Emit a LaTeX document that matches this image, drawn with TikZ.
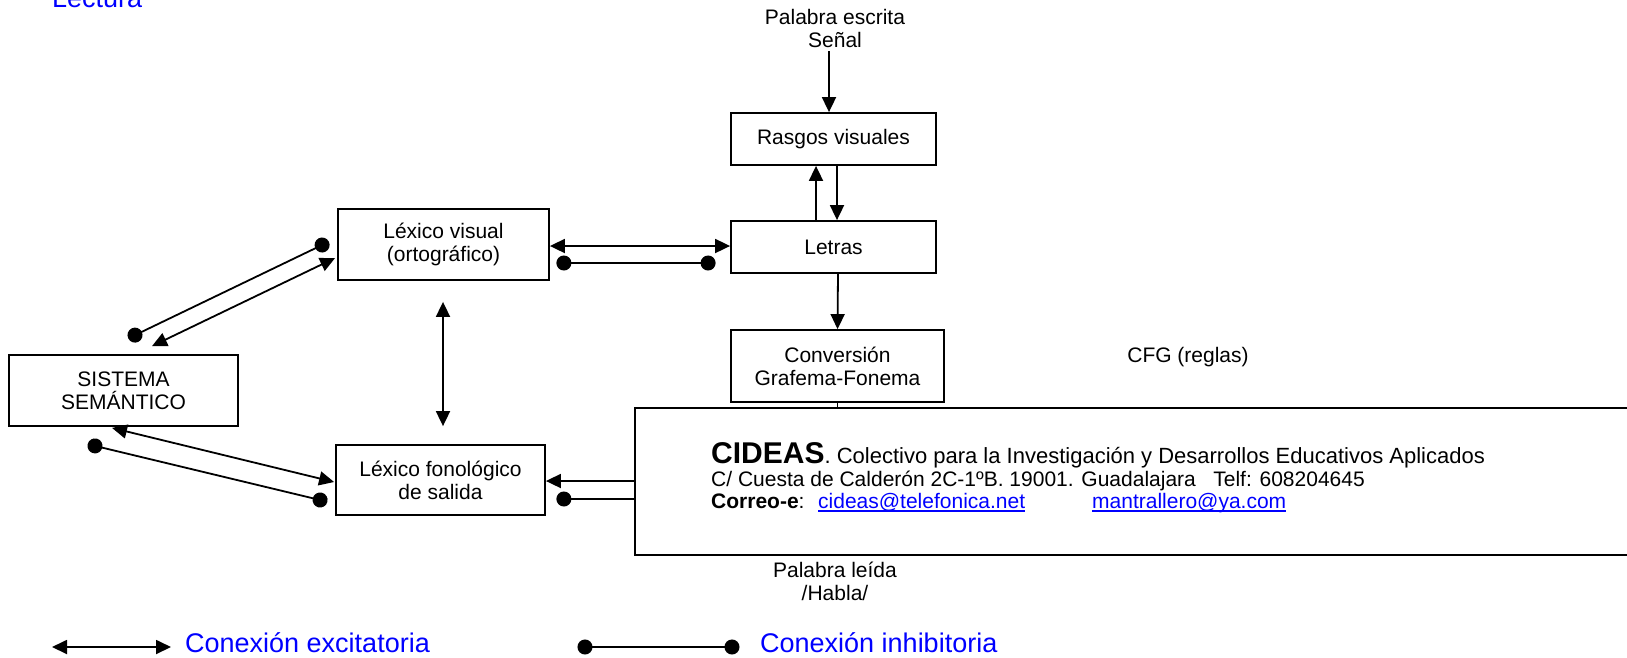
\documentclass[tikz,border=0pt]{standalone}
\usepackage{fontspec}
\setmainfont{Liberation Sans}
\usetikzlibrary{arrows.meta,calc}
\definecolor{lnk}{RGB}{0,0,255}
\begin{document}
\begin{tikzpicture}[x=1pt,y=-1pt,
  every node/.style={font=\fontsize{21}{23}\selectfont, inner sep=0pt},
  box/.style={draw, line width=1.8pt, align=center, fill=white},
  txt/.style={align=center},
  blu/.style={text=lnk, font=\fontsize{27}{27}\selectfont},
  exc/.style={line width=1.8pt, {Triangle[length=15pt,width=14pt]}-{Triangle[length=15pt,width=14pt]}},
  fwd/.style={line width=1.8pt, -{Triangle[length=15pt,width=14pt]}},
  inh/.style={line width=1.8pt, {Circle[length=15pt,width=15pt]}-{Circle[length=15pt,width=15pt]}, shorten <=-7.5pt, shorten >=-7.5pt},
  inhone/.style={line width=1.8pt, {Circle[length=15pt,width=15pt]}-, shorten <=-7.5pt},
  ul/.style={draw=lnk, line width=1.3pt}]
\useasboundingbox (0,0) rectangle (1627,657);

\node[blu, anchor=base west] (lect) at (52,7) {Lectura};

\node[txt] (pe) at (835,28) {Palabra escrita\\Señal};
\node[box, minimum width=205pt, minimum height=52pt] (rv) at (833.5,139) {Rasgos visuales};
\node[box, minimum width=205pt, minimum height=52pt] (le) at (833.5,247) {Letras};
\node[box, minimum width=213pt, minimum height=72pt] (cv) at (837.5,366) {Conversión\\Grafema-Fonema};
\node[box, minimum width=211pt, minimum height=71pt] (lv) at (443.5,244.5) {Léxico visual\\(ortográfico)};
\node[box, minimum width=209pt, minimum height=70pt] (lf) at (440.5,480) {Léxico fonológico\\de salida};
\node[box, minimum width=229pt, minimum height=71pt] (ss) at (123.5,390.5) {SISTEMA\\SEMÁNTICO};
\node[txt] (cfg) at (1188,357) {CFG (reglas)};
\node[txt] (pl) at (835,581) {Palabra leída\\/Habla/};

% vertical route
\draw[fwd] ($(pe.south)+(-6,4)$) -- ($(rv.north)+(-4.5,0)$);
\draw[fwd] ($(le.north)+(-17.5,0)$) -- ($(rv.south)+(-17.5,0)$);
\draw[fwd] ($(rv.south)+(3.5,0)$) -- ($(le.north)+(3.5,0)$);
\draw[fwd] ($(le.south)+(4.5,0)$) -- (cv.north);
\draw[fwd] (cv.south) |- ($(lf.east)+(0,1)$);
\draw[inhone] ($(lf.east)+(18,19)$) -- ($(lf.east)+(150,19)$);

% lexico visual <-> letras
\draw[exc] ($(lv.east)+(0,1.5)$) -- ($(le.west)+(0,-1)$);
\draw[inh] ($(lv.east)+(14,18.5)$) -- ($(le.west)+(-22,16)$);

% sistema <-> lexico visual
\draw[inh] ($(ss.north)+(11.5,-19)$) -- ($(lv.west)+(-15,0.5)$);
\draw[exc] ($(ss.north)+(28.5,-8)$) -- ($(lv.west)+(-2,13.5)$);

% sistema <-> lexico fonologico
\draw[exc] ($(ss.south)+(-11.5,1)$) -- ($(lf.west)+(-1,2)$);
\draw[inh] ($(ss.south)+(-28.5,19)$) -- ($(lf.west)+(-15,20)$);

% lexico visual <-> lexico fonologico
\draw[exc] ($(lv.south)+(-0.5,21)$) -- ($(lv.south |- lf.north)+(-0.5,-18)$);

% CIDEAS overlay
\node[draw, line width=1.8pt, fill=white, minimum width=1010pt, minimum height=147pt, anchor=north west] (cid) at (634,407) {};
\node[anchor=base west] (c1) at (711,463) {{\fontsize{30}{30}\selectfont\bfseries CIDEAS}{\fontsize{22}{22}\selectfont. Colectivo para la Investigación y Desarrollos Educativos Aplicados}};
\node[anchor=base west] (c2) at (711,486) {C/ Cuesta de Calderón 2C-1ºB. 19001. Guadalajara\ \ \ Telf: 608204645};
\node[anchor=base west] (c3) at (711,508) {\textbf{Correo-e}:};
\node[anchor=base west, text=lnk] (m1) at (818,508) {cideas@telefonica.net};
\node[anchor=base west, text=lnk] (m2) at (1092,508) {mantrallero@ya.com};
\draw[ul] ($(m1.base west)+(0,3)$) -- ($(m1.base east)+(0,3)$);
\draw[ul] ($(m2.base west)+(0,3)$) -- ($(m2.base east)+(0,3)$);

% legend
\coordinate (la) at (52,647);
\coordinate (lb) at (171,647);
\draw[exc] (la) -- (lb);
\node[blu, anchor=base west] (lt1) at (185,652) {Conexión excitatoria};
\coordinate (lc) at (585,647);
\coordinate (ld) at (732,647);
\draw[inh] (lc) -- (ld);
\node[blu, anchor=base west] (lt2) at (760,652) {Conexión inhibitoria};
\end{tikzpicture}
\end{document}
